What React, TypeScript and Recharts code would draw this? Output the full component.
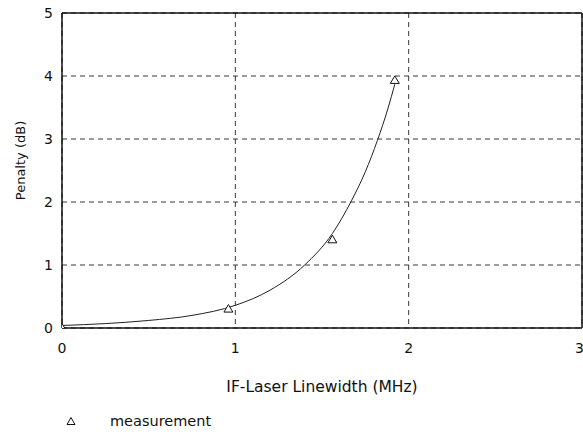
import React from 'react'
import { ComposedChart, Line, Scatter, XAxis, YAxis, CartesianGrid, ReferenceLine, Legend } from 'recharts'

document.body.style.margin = '0'

// fitted curve
const curveX = [0, 0.25, 0.5, 0.75, 1.0, 1.2, 1.4, 1.56, 1.67, 1.75, 1.82, 1.88, 1.92]
const curveY = [0.04, 0.07, 0.12, 0.2, 0.36, 0.6, 1.0, 1.5, 2.02, 2.48, 2.98, 3.48, 3.87]

// measured points
const measX = [0, 0.96, 1.56, 1.92]
const measY = [0.0, 0.3, 1.4, 3.93]

const xTicks = [0, 1, 2, 3]
const yTicks = [0, 1, 2, 3, 4, 5]

const curveData = curveX.map((x, i) => ({ x, y: curveY[i] }))
const measData = measX.map((x, i) => ({ x, y: measY[i] }))

const FONT = 'DejaVu Sans'

const Triangle = (props: any) => {
  const { cx, cy } = props
  if (cx == null || cy == null) return null
  return (
    <path
      d={`M${cx},${cy - 4.5}L${cx + 4.5},${cy + 3}L${cx - 4.5},${cy + 3}Z`}
      fill="#fff"
      stroke="#111"
      strokeWidth={1}
    />
  )
}

const renderLegend = () => (
  <div style={{ display: 'flex', alignItems: 'center', fontFamily: FONT, fontSize: 14.5, color: '#111' }}>
    <svg width={12} height={10} style={{ marginRight: 33 }}>
      <path d="M6,1.5L10,8.5L2,8.5Z" fill="#fff" stroke="#111" strokeWidth={1} />
    </svg>
    <span>measurement</span>
  </div>
)

const YLabel = (props: any) => {
  const vb = props.viewBox || {}
  const x = vb.x + 20
  const y = vb.y + vb.height / 2 - 10
  return (
    <text x={x} y={y} transform={`rotate(-90 ${x} ${y})`} textAnchor="middle" dominantBaseline="central"
      fontFamily={FONT} fontSize={13} fill="#111">
      Penalty (dB)
    </text>
  )
}

export default function App() {
  return (
    <ComposedChart width={583} height={435} margin={{ top: 13, right: 1, left: 0, bottom: 77 }}>
      <CartesianGrid stroke="#222" strokeDasharray="5 4" strokeWidth={0.9} />
      <XAxis
        type="number"
        dataKey="x"
        domain={[0, 3]}
        ticks={xTicks}
        height={30}
        tickLine={false}
        axisLine={{ stroke: '#111', strokeWidth: 1.5 }}
        tickMargin={9}
        tick={{ fill: '#111', fontSize: 14, fontFamily: FONT }}
        label={{ value: 'IF-Laser Linewidth (MHz)', position: 'bottom', offset: 23, fill: '#111', fontSize: 15.5, fontFamily: FONT }}
        allowDataOverflow
      />
      <YAxis
        type="number"
        dataKey="y"
        domain={[0, 5]}
        ticks={yTicks}
        width={62}
        tickLine={false}
        axisLine={{ stroke: '#111', strokeWidth: 1.5 }}
        tickMargin={3}
        tick={{ fill: '#111', fontSize: 14, fontFamily: FONT }}
        label={<YLabel />}
        allowDataOverflow
      />
      <ReferenceLine y={5} stroke="#111" strokeWidth={1.5} />
      <ReferenceLine x={3} stroke="#111" strokeWidth={1.5} />
      <Line
        data={curveData}
        dataKey="y"
        type="monotone"
        stroke="#222"
        strokeWidth={1}
        dot={false}
        activeDot={false}
        isAnimationActive={false}
        legendType="none"
      />
      <Scatter
        data={measData}
        dataKey="y"
        name="measurement"
        shape={<Triangle />}
        isAnimationActive={false}
      />
      <Legend
        layout="horizontal"
        verticalAlign="middle"
        align="center"
        content={renderLegend}
        wrapperStyle={{ left: 65, top: 413, width: 'auto' }}
      />
    </ComposedChart>
  )
}
